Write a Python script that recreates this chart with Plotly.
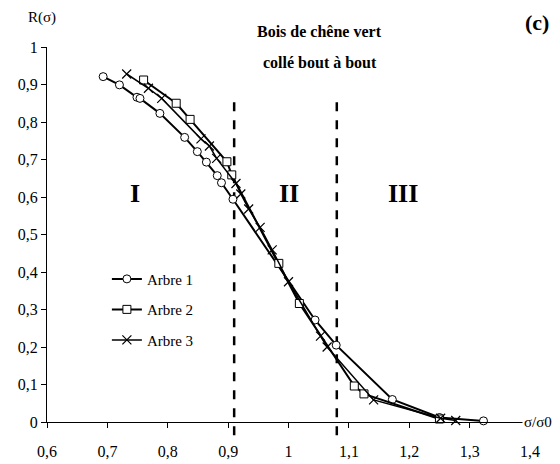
import plotly.graph_objects as go

# Data
a1_x = [0.693, 0.720, 0.749, 0.754, 0.787, 0.828, 0.849, 0.864, 0.882, 0.889, 0.908, 1.044, 1.079, 1.172, 1.250, 1.323]
a1_y = [0.921, 0.899, 0.866, 0.863, 0.823, 0.759, 0.721, 0.693, 0.657, 0.638, 0.594, 0.272, 0.205, 0.060, 0.012, 0.003]

a2_x = [0.760, 0.814, 0.837, 0.898, 0.906, 0.984, 1.018, 1.109, 1.125, 1.250]
a2_y = [0.912, 0.850, 0.807, 0.694, 0.659, 0.423, 0.316, 0.096, 0.075, 0.008]

a3_x = [0.732, 0.768, 0.790, 0.855, 0.869, 0.881, 0.913, 0.921, 0.934, 0.953, 0.973, 1.000, 1.053, 1.064, 1.141, 1.252, 1.277]
a3_y = [0.928, 0.890, 0.863, 0.755, 0.736, 0.703, 0.636, 0.608, 0.568, 0.519, 0.459, 0.374, 0.229, 0.200, 0.059, 0.010, 0.004]

series_names = ["Arbre 1", "Arbre 2", "Arbre 3"]
x_ticks = [0.6, 0.7, 0.8, 0.9, 1.0, 1.1, 1.2, 1.3, 1.4]
x_tick_labels = ["0,6", "0,7", "0,8", "0,9", "1", "1,1", "1,2", "1,3", "1,4"]
y_ticks = [0, 0.1, 0.2, 0.3, 0.4, 0.5, 0.6, 0.7, 0.8, 0.9, 1.0]
y_tick_labels = ["0", "0,1", "0,2", "0,3", "0,4", "0,5", "0,6", "0,7", "0,8", "0,9", "1"]
zone_bounds = [0.91, 1.08]
zone_labels = ["I", "II", "III"]
zone_label_x = [0.745, 1.0, 1.19]

X_MIN, X_MAX = 0.6, 1.4
FONT = "Liberation Serif, Times New Roman, serif"

fig = go.Figure()
markers = [
    dict(symbol="circle", size=8, color="white", line=dict(color="black", width=1)),
    dict(symbol="square", size=8, color="white", line=dict(color="black", width=1)),
    dict(symbol="x-thin", size=9, color="black", line=dict(color="black", width=1.2)),
]
line_widths = [2, 2, 1.5]
for i, (xs, ys) in enumerate([(a1_x, a1_y), (a2_x, a2_y), (a3_x, a3_y)]):
    fig.add_trace(go.Scatter(
        x=xs, y=ys, mode="lines+markers", name=series_names[i],
        line=dict(color="black", width=line_widths[i]),
        marker=markers[i], legendgroup=str(i), cliponaxis=False,
    ))

shapes = []
for b in zone_bounds:
    px = (b - X_MIN) / (X_MAX - X_MIN)
    shapes.append(dict(type="line", xref="paper", yref="paper", x0=px, x1=px,
                       y0=-0.035, y1=0.87, line=dict(color="black", width=2.5, dash="dash"),
                       layer="below"))

def ann(text, x, y, size, xref="paper", yref="paper", **kw):
    return dict(text=text, x=x, y=y, xref=xref, yref=yref, xanchor="center", yanchor="middle",
                showarrow=False, font=dict(family=FONT, size=size, color="black"), **kw)

annotations = [
    ann("<b>Bois de chêne vert</b>", 0.565, 1.04, 16),
    ann("<b>collé bout à bout</b>", 0.565, 0.96, 16),
    ann("<b>(c)</b>", 1.0145, 1.064, 22),
    ann("R(σ)", -0.01, 1.078, 15),
    ann("σ/σ0", 1.4, 0, 15, xref="x", yref="y", xshift=8, bgcolor="white"),
]
for lab, lx in zip(zone_labels, zone_label_x):
    annotations.append(ann("<b>" + lab + "</b>", lx, 0.61, 26, xref="x", yref="y"))

# page body has an 8px margin; size the figure so it fits the 560x464 window
fig.update_layout(
    width=552, height=456,
    margin=dict(l=39, r=30, t=39, b=42, autoexpand=False),
    paper_bgcolor="white", plot_bgcolor="white",
    font=dict(family=FONT, size=16, color="black"),
    showlegend=True,
    legend=dict(x=0.124, y=0.425, xanchor="left", yanchor="top",
                bgcolor="rgba(0,0,0,0)", font=dict(family=FONT, size=15),
                tracegroupgap=8, itemwidth=30),
    shapes=shapes,
    annotations=annotations,
    xaxis=dict(range=[X_MIN, X_MAX], tickvals=x_ticks, ticktext=x_tick_labels,
               showgrid=False, zeroline=False, showline=True, linecolor="black", linewidth=1,
               ticks="outside", ticklen=5, tickcolor="black", ticklabelstandoff=10,
               automargin=False),
    yaxis=dict(range=[0, 1.0], tickvals=y_ticks, ticktext=y_tick_labels,
               showgrid=False, zeroline=False, showline=True, linecolor="black", linewidth=1,
               ticks="outside", ticklen=5, tickcolor="black", automargin=False),
)

fig.write_html("out.html")
